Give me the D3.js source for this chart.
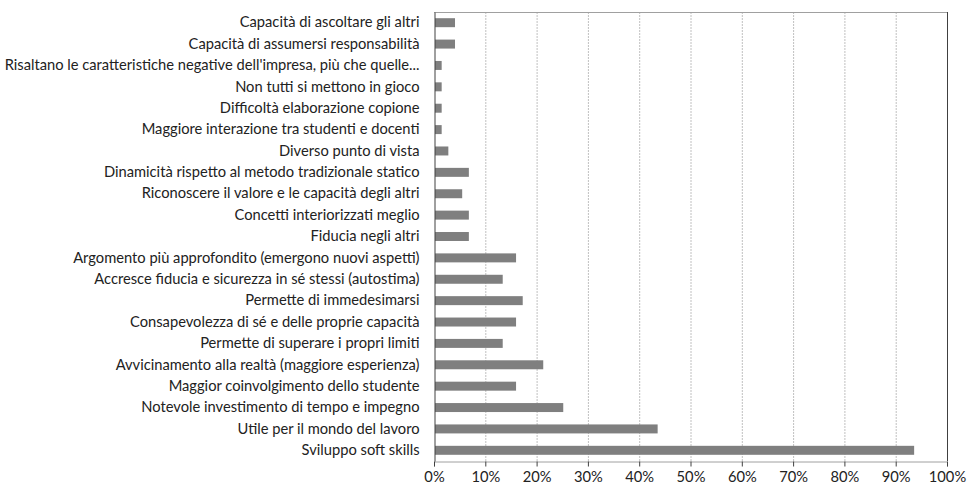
<!DOCTYPE html>
<html>
<head>
<meta charset="utf-8">
<script src="https://cdn.jsdelivr.net/npm/d3@7"></script>
<style>
  body { margin: 0; background: #fff; }
  text { font-family: Lato, "Open Sans", sans-serif; fill: #222; }
  .grid line { stroke: #c0c0c0; stroke-dasharray: 2,1; }
</style>
</head>
<body>
<svg width="968" height="486"></svg>
<script>
var width = 968;
var height = 486;

// categories, top to bottom
var categories = [
  "Capacità di ascoltare gli altri",
  "Capacità di assumersi responsabilità",
  "Risaltano le caratteristiche negative dell'impresa, più che quelle...",
  "Non tutti si mettono in gioco",
  "Difficoltà elaborazione copione",
  "Maggiore interazione tra studenti e docenti",
  "Diverso punto di vista",
  "Dinamicità rispetto al metodo tradizionale statico",
  "Riconoscere il valore e le capacità degli altri",
  "Concetti interiorizzati meglio",
  "Fiducia negli altri",
  "Argomento più approfondito (emergono nuovi aspetti)",
  "Accresce fiducia e sicurezza in sé stessi (autostima)",
  "Permette di immedesimarsi",
  "Consapevolezza di sé e delle proprie capacità",
  "Permette di superare i propri limiti",
  "Avvicinamento alla realtà (maggiore esperienza)",
  "Maggior coinvolgimento dello studente",
  "Notevole investimento di tempo e impegno",
  "Utile per il mondo del lavoro",
  "Sviluppo soft skills"
];
// percentages
var values = [3.9, 3.9, 1.3, 1.3, 1.3, 1.3, 2.6, 6.6, 5.3, 6.6, 6.6,
              15.8, 13.2, 17.1, 15.8, 13.2, 21.1, 15.8, 25.0, 43.4, 93.4];
var ticks = [0, 10, 20, 30, 40, 50, 60, 70, 80, 90, 100];

var margin = {top: 12, right: 21, bottom: 25, left: 434};

var svg = d3.select("svg");

var x = d3.scaleLinear()
    .domain([0, 100])
    .range([margin.left, width - margin.right]);

var y = d3.scaleBand()
    .domain(categories)
    .range([margin.top, height - margin.bottom])
    .paddingInner(0.58)
    .paddingOuter(0.29);

// gridlines
svg.append("g")
    .attr("class", "grid")
    .selectAll("line")
    .data(ticks.slice(1, -1))
    .enter()
    .append("line")
    .attr("x1", d => x(d) + 0.5).attr("x2", d => x(d) + 0.5)
    .attr("y1", margin.top).attr("y2", height - margin.bottom);

// frame
svg.append("line")
    .attr("x1", margin.left).attr("x2", width - margin.right + 0.5)
    .attr("y1", margin.top + 0.5).attr("y2", margin.top + 0.5)
    .style("stroke", "#a0a0a0");
svg.append("line")
    .attr("x1", width - margin.right + 0.5).attr("x2", width - margin.right + 0.5)
    .attr("y1", margin.top).attr("y2", height - margin.bottom)
    .style("stroke", "#404040");

// bars
svg.append("g")
    .selectAll("rect")
    .data(values)
    .enter()
    .append("rect")
    .attr("x", x(0) + 1)
    .attr("y", (d, i) => y(categories[i]))
    .attr("width", d => x(d) - x(0))
    .attr("height", y.bandwidth())
    .style("fill", "#7f7f7f");

// x axis
var xAxis = svg.append("g")
    .attr("transform", "translate(0," + (height - margin.bottom + 0.5) + ")")
    .call(d3.axisBottom(x).tickValues(ticks).tickFormat(d => d + "%").tickSizeOuter(0).tickSize(5).tickPadding(5));
xAxis.select(".domain").style("stroke", "#a0a0a0");
xAxis.selectAll(".tick line").style("stroke", "#404040");
xAxis.selectAll("text").style("font-size", "14.7px").style("font-family", "Lato, sans-serif").attr("fill", "#222");

// y axis
var yAxis = svg.append("g")
    .attr("transform", "translate(" + (margin.left + 0.5) + ",0)")
    .call(d3.axisLeft(y).tickSize(0).tickPadding(15));
yAxis.select(".domain").style("stroke", "#404040");
yAxis.selectAll("text").style("font-size", "14.7px").style("font-family", "Lato, sans-serif").attr("fill", "#222");
</script>
</body>
</html>
